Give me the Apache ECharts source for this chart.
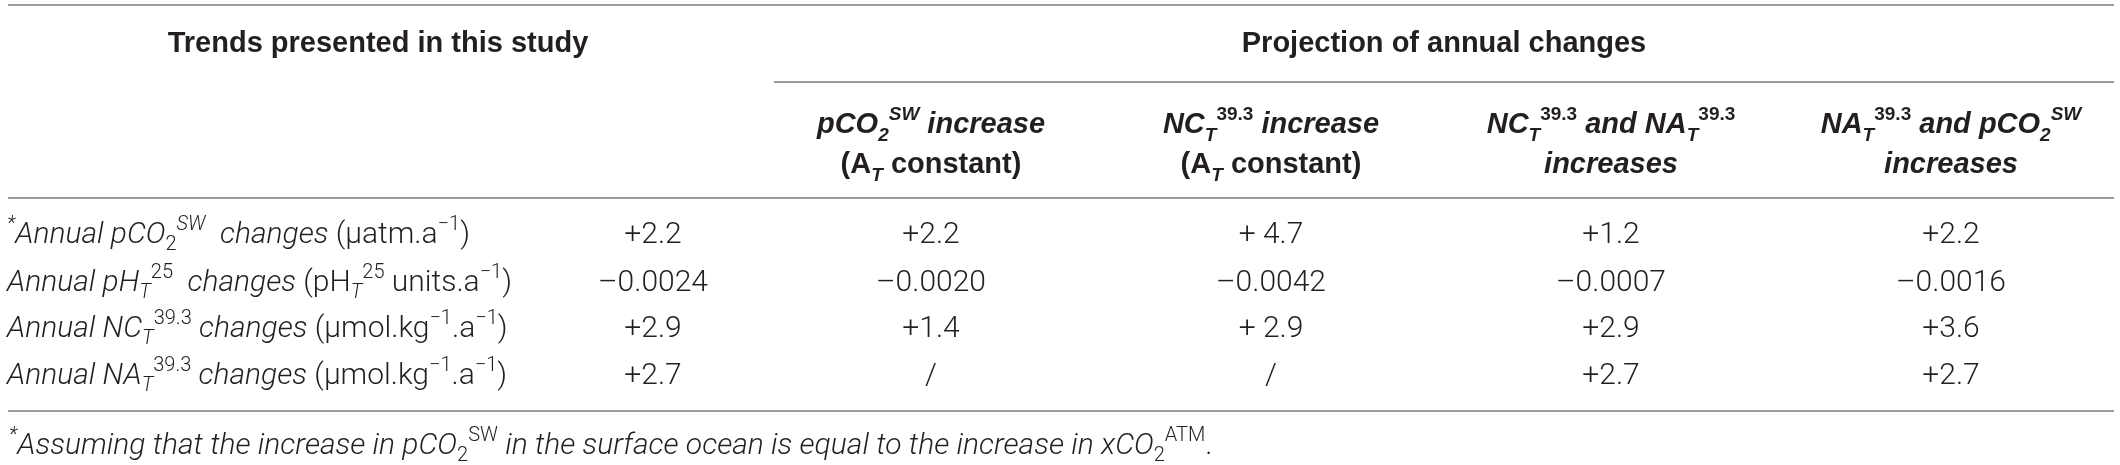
<!DOCTYPE html>
<html>
<head>
<meta charset="utf-8">
<script src="https://cdn.jsdelivr.net/npm/echarts@6/dist/echarts.min.js"></script>
<style>
  html, body { margin: 0; padding: 0; background: #fff; }
  #chart { width: 2120px; height: 465px; }
</style>
</head>
<body>
<div id="chart"></div>
<script>
// table content (rich markup: i = italic, sub/sup = small lowered/raised)
const groupHeaders = ['Trends presented in this study', 'Projection of annual changes'];
const scenarioTop = [
    '{bi|pCO}{bisub|2}{bisup|SW}{bi| increase}',
    '{bi|NC}{bisub|T}{bsup|39.3}{bi| increase}',
    '{bi|NC}{bisub|T}{bsup|39.3}{bi| and NA}{bisub|T}{bsup|39.3}',
    '{bi|NA}{bisub|T}{bsup|39.3}{bi| and pCO}{bisub|2}{bisup|SW}'
];
const scenarioBottom = ['(A{bisub|T} constant)', '(A{bisub|T} constant)', '{bi|increases}', '{bi|increases}'];
const rowLabels = [
    '{isup|*}{i|Annual pCO}{sub|2}{isup|SW}{i|  changes }(µatm.a{sup|−1})',
    '{i|Annual pH}{isub|T}{sup|25}{i|  changes }(pH{isub|T}{sup|25} units.a{sup|−1})',
    '{i|Annual NC}{isub|T}{sup|39.3}{i| changes }(µmol.kg{sup|−1}.a{sup|−1})',
    '{i|Annual NA}{isub|T}{sup|39.3}{i| changes }(µmol.kg{sup|−1}.a{sup|−1})'
];
const observed = ['+2.2', '–0.0024', '+2.9', '+2.7'];
const pco2Only = ['+2.2', '–0.0020', '+1.4', '/'];
const nctOnly = ['+ 4.7', '–0.0042', '+ 2.9', '/'];
const nctAndNat = ['+1.2', '–0.0007', '+2.9', '+2.7'];
const natAndPco2 = ['+2.2', '–0.0016', '+3.6', '+2.7'];
const footnote = '{isup|*}{i|Assuming that the increase in pCO}{sub|2}{sup|SW}{i| in the surface ocean is equal to the increase in xCO}{sub|2}{sup|ATM}.';

// layout (table units on the value axes)
const W = 2120, H = 465;
const colX = [7, 653, 931, 1271, 1611, 1951];
const groupX = [378, 1444];
const rowY = [235, 283, 329, 376];
const headY = 44, scenY = [125, 165], footY = 446;
const rules = [[5, 8, 2114], [82, 774, 2114], [198, 8, 2114], [411, 8, 2114]];

const BODY_FONT = 'Roboto, Liberation Sans, Arial, sans-serif';
const HEAD_FONT = 'Liberation Sans, Arial, sans-serif';
const INK = '#231f20';
const BASE = 30, SMALL = 20, LH = 40;

function font(family, size, style, weight, extra) {
    return Object.assign({
        fontSize: size, fontStyle: style, fontWeight: weight,
        fontFamily: family, fill: INK
    }, extra || {});
}
const up = { verticalAlign: 'top', lineHeight: SMALL };
const down = { verticalAlign: 'bottom', lineHeight: SMALL };
const richBody = {
    i: font(BODY_FONT, BASE, 'italic', 300),
    isub: font(BODY_FONT, SMALL, 'italic', 300, down),
    isup: font(BODY_FONT, SMALL, 'italic', 300, up),
    sub: font(BODY_FONT, SMALL, 'normal', 300, down),
    sup: font(BODY_FONT, SMALL, 'normal', 300, up)
};
const richHead = {
    bi: font(HEAD_FONT, 29, 'italic', 'bold'),
    bisub: font(HEAD_FONT, 19, 'italic', 'bold', down),
    bisup: font(HEAD_FONT, 19, 'italic', 'bold', up),
    bsup: font(HEAD_FONT, 19, 'normal', 'bold', up)
};

// one entry per table cell
const cells = [];
groupHeaders.forEach((t, k) => cells.push({ x: groupX[k], y: headY, text: t, head: true, align: 'center' }));
scenarioTop.forEach((t, k) => cells.push({ x: colX[k + 2], y: scenY[0], text: t, head: true, align: 'center' }));
scenarioBottom.forEach((t, k) => cells.push({ x: colX[k + 2], y: scenY[1], text: t, head: true, align: 'center' }));
rowLabels.forEach((t, r) => cells.push({ x: colX[0], y: rowY[r], text: t, align: 'left' }));
[observed, pco2Only, nctOnly, nctAndNat, natAndPco2].forEach((col, c) => {
    col.forEach((v, r) => cells.push({ x: colX[c + 1], y: rowY[r], text: v, align: 'center' }));
});
cells.push({ x: 9, y: footY, text: footnote, align: 'left' });

const chart = echarts.init(document.getElementById('chart'), null, { renderer: 'canvas' });

const option = {
    animation: false,
    backgroundColor: '#fff',
    grid: { left: 0, right: 0, top: 0, bottom: 0 },
    xAxis: { type: 'value', min: 0, max: W, show: false },
    yAxis: { type: 'value', min: 0, max: H, inverse: true, show: false },
    series: [
        {
            type: 'custom',
            data: rules.map((r, i) => [i]),
            renderItem: (params, api) => {
                const r = rules[params.dataIndex];
                const p1 = api.coord([r[1], r[0]]);
                const p2 = api.coord([r[2], r[0]]);
                return {
                    type: 'line',
                    shape: { x1: p1[0], y1: p1[1], x2: p2[0], y2: p2[1] },
                    style: { stroke: '#9b9b9b', lineWidth: 2 }
                };
            }
        },
        {
            type: 'custom',
            data: cells.map((c, i) => [i]),
            renderItem: (params, api) => {
                const c = cells[params.dataIndex];
                const p = api.coord([c.x, c.y]);
                return {
                    type: 'text',
                    x: p[0],
                    y: p[1],
                    style: {
                        text: c.text,
                        rich: c.head ? richHead : richBody,
                        fontSize: c.head ? 29 : BASE,
                        fontFamily: c.head ? HEAD_FONT : BODY_FONT,
                        fontWeight: c.head ? 'bold' : 300,
                        fontStyle: 'normal',
                        lineHeight: LH,
                        fill: INK,
                        align: c.align,
                        verticalAlign: 'middle'
                    }
                };
            }
        }
    ]
};

chart.setOption(option);
</script>
</body>
</html>
